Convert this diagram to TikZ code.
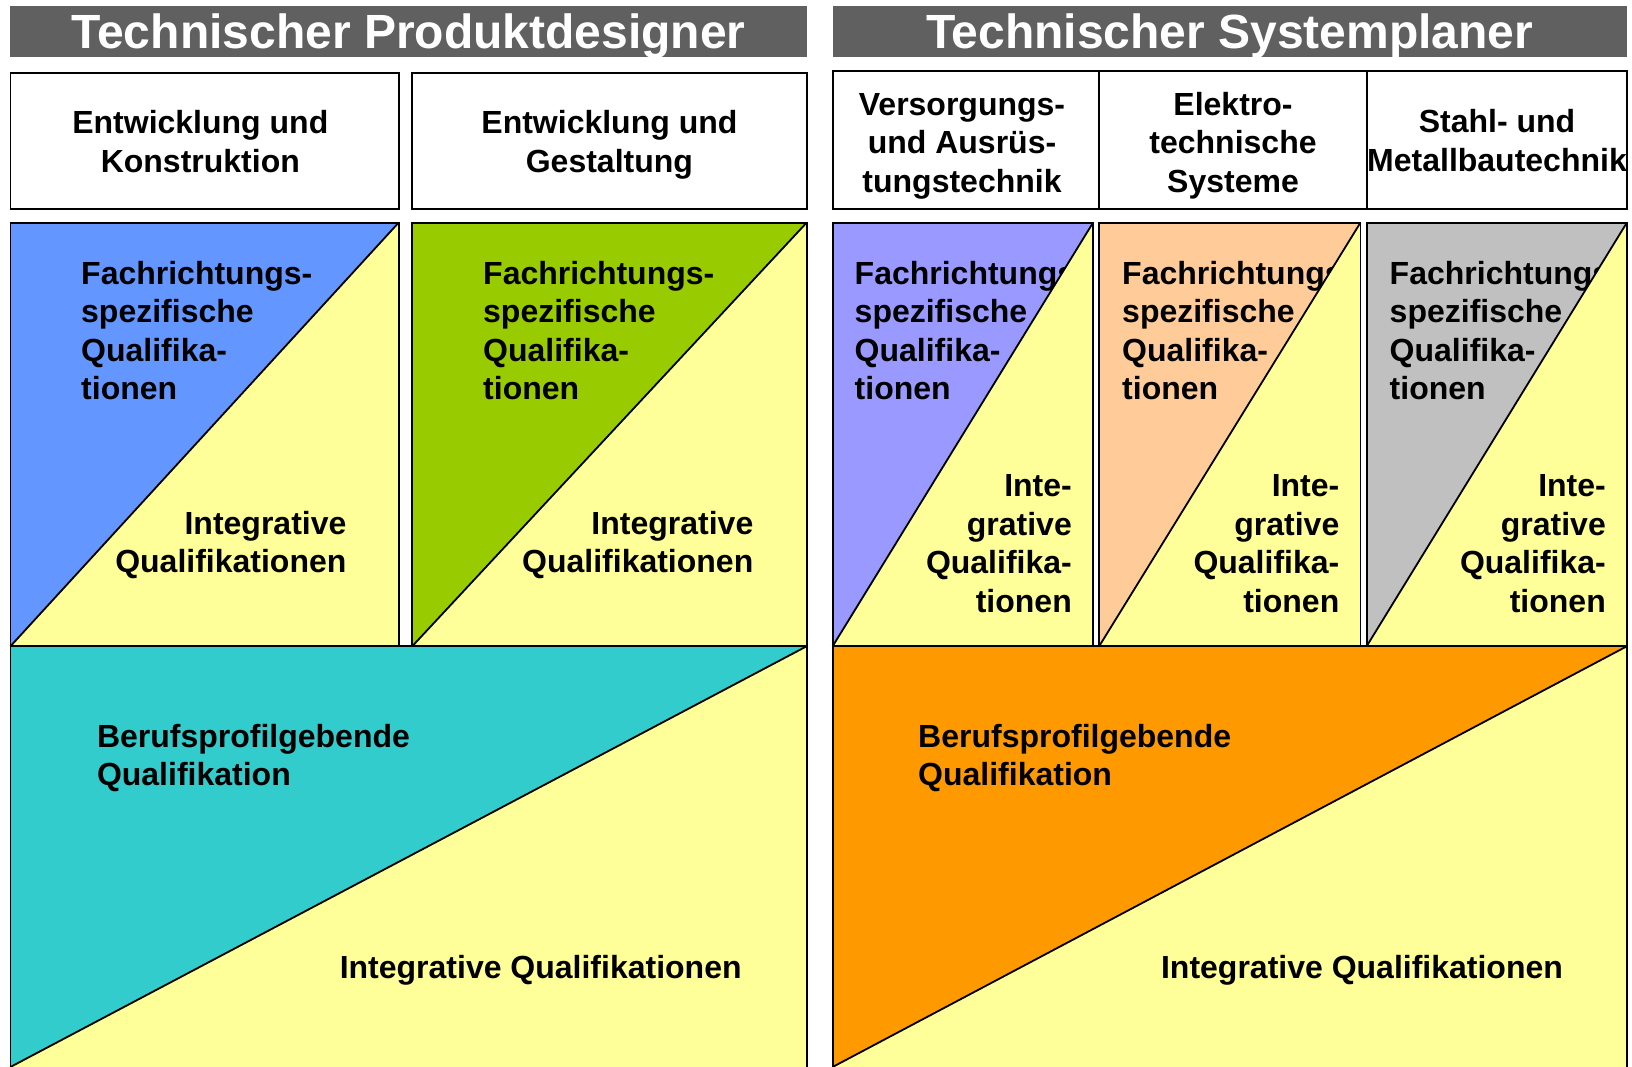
\documentclass[tikz,border=0pt]{standalone}
\usepackage{fontspec}
\setmainfont{Liberation Sans}
\definecolor{hdrgray}{RGB}{96,96,96}
\definecolor{cblue}{RGB}{100,150,255}
\definecolor{cgreen}{RGB}{153,204,0}
\definecolor{cyel}{RGB}{255,255,153}
\definecolor{cteal}{RGB}{51,204,204}
\definecolor{clav}{RGB}{153,153,255}
\definecolor{cpeach}{RGB}{255,204,153}
\definecolor{cgray}{RGB}{192,192,192}
\definecolor{corange}{RGB}{255,153,0}
\tikzset{
  hdrtext/.style={text=white,font=\bfseries\fontsize{48}{56}\selectfont,inner sep=0pt,anchor=base},
  body/.style={font=\bfseries\fontsize{32}{38.5}\selectfont,inner sep=0pt},
  lft/.style={body,align=left,anchor=base west},
  rgt/.style={body,align=right,anchor=base east},
  ctr/.style={body,align=center,anchor=base},
  frame/.style={draw=black,line width=1.8pt},
  edge/.style={draw=black,line width=1.8pt}
}
\begin{document}
\begin{tikzpicture}[x=1pt,y=-1pt]
\useasboundingbox (0,0) rectangle (1632,1067);
\fill[white] (0,0) rectangle (1632,1067);
% headers
\fill[hdrgray] (10.4,6.2) rectangle (806.6,57.2);
\node[hdrtext] (h1) at (408.5,48.5) {Technischer Produktdesigner};
\fill[hdrgray] (832.6,6.2) rectangle (1626.8,57.2);
\node[hdrtext] (h2) at (1229.7,48.5) {Technischer Systemplaner};
% top boxes left
\draw[frame] (10.4,72.9) rectangle (398.6,209.2);
\node[ctr] (b1) at (200.3,172.5) {Entwicklung und\\Konstruktion};
\draw[frame] (412.2,72.9) rectangle (806.6,209.2);
\node[ctr] (b2) at (609.4,172.5) {Entwicklung und\\Gestaltung};
% top boxes right
\draw[frame] (832.6,70.8) rectangle (1626.8,209.2);
\draw[frame] (1099.1,70.8) -- (1099.1,209.2);
\draw[frame] (1366.6,70.8) -- (1366.6,209.2);
\node[ctr] (b3) at (962,192.5) {Versorgungs-\\und Ausrüs-\\tungstechnik};
\node[ctr] (b4) at (1233,192.5) {Elektro-\\technische\\Systeme};
\node[ctr] (b5) at (1497,171.5) {Stahl- und\\Metallbautechnik};
% middle row left
\fill[cblue] (10.4,222.7) rectangle (398.6,646.3);
\node[lft] (f1) at (81,399.5) {Fachrichtungs-\\spezifische\\Qualifika-\\tionen};
\fill[cyel] (398.6,222.7) -- (398.6,646.3) -- (10.4,646.3) -- cycle;
\draw[edge] (398.6,222.7) -- (10.4,646.3);
\draw[frame] (10.4,222.7) rectangle (398.6,646.3);
\node[rgt] (i1) at (346.6,572.5) {Integrative\\Qualifikationen};
\fill[cgreen] (412.2,222.7) rectangle (806.6,646.3);
\node[lft] (f2) at (483,399.5) {Fachrichtungs-\\spezifische\\Qualifika-\\tionen};
\fill[cyel] (806.6,222.7) -- (806.6,646.3) -- (412.2,646.3) -- cycle;
\draw[edge] (806.6,222.7) -- (412.2,646.3);
\draw[frame] (412.2,222.7) rectangle (806.6,646.3);
\node[rgt] (i2) at (753.5,572.5) {Integrative\\Qualifikationen};
% middle row right
\fill[clav] (832.6,222.7) rectangle (1093,646.3);
\node[lft] (f3) at (854.5,399.5) {Fachrichtungs-\\spezifische\\Qualifika-\\tionen};
\fill[cyel] (1093,222.7) -- (1093,646.3) -- (832.6,646.3) -- cycle;
\draw[edge] (1093,222.7) -- (832.6,646.3);
\draw[frame] (832.6,222.7) rectangle (1093,646.3);
\node[rgt] (i3) at (1072,612) {Inte-\\grative\\Qualifika-\\tionen};
\fill[cpeach] (1099.1,222.7) rectangle (1360.4,646.3);
\node[lft] (f4) at (1122,399.5) {Fachrichtungs-\\spezifische\\Qualifika-\\tionen};
\fill[cyel] (1360.4,222.7) -- (1360.4,646.3) -- (1099.1,646.3) -- cycle;
\draw[edge] (1360.4,222.7) -- (1099.1,646.3);
\draw[frame] (1099.1,222.7) rectangle (1360.4,646.3);
\node[rgt] (i4) at (1339.5,612) {Inte-\\grative\\Qualifika-\\tionen};
\fill[cgray] (1366.6,222.7) rectangle (1626.8,646.3);
\node[lft] (f5) at (1389.5,399.5) {Fachrichtungs-\\spezifische\\Qualifika-\\tionen};
\fill[cyel] (1626.8,222.7) -- (1626.8,646.3) -- (1366.6,646.3) -- cycle;
\draw[edge] (1626.8,222.7) -- (1366.6,646.3);
\draw[frame] (1366.6,222.7) rectangle (1626.8,646.3);
\node[rgt] (i5) at (1606,612) {Inte-\\grative\\Qualifika-\\tionen};
% bottom left
\fill[cteal] (10.4,646.3) rectangle (806.6,1067);
\fill[cyel] (806.6,646.3) -- (806.6,1067) -- (10.4,1067) -- cycle;
\draw[edge] (806.6,646.3) -- (10.4,1067);
\draw[edge] (10.4,1067) -- (10.4,646.3) -- (806.6,646.3) -- (806.6,1067);
\node[lft] (q1) at (96.8,785.5) {Berufsprofilgebende\\Qualifikation};
\node[ctr] (j1) at (540.7,978.5) {Integrative Qualifikationen};
% bottom right
\fill[corange] (832.6,646.3) rectangle (1626.8,1067);
\fill[cyel] (1626.8,646.3) -- (1626.8,1067) -- (832.6,1067) -- cycle;
\draw[edge] (1626.8,646.3) -- (832.6,1067);
\draw[edge] (832.6,1067) -- (832.6,646.3) -- (1626.8,646.3) -- (1626.8,1067);
\node[lft] (q2) at (918,785.5) {Berufsprofilgebende\\Qualifikation};
\node[ctr] (j2) at (1362,978.5) {Integrative Qualifikationen};
\end{tikzpicture}
\end{document}
